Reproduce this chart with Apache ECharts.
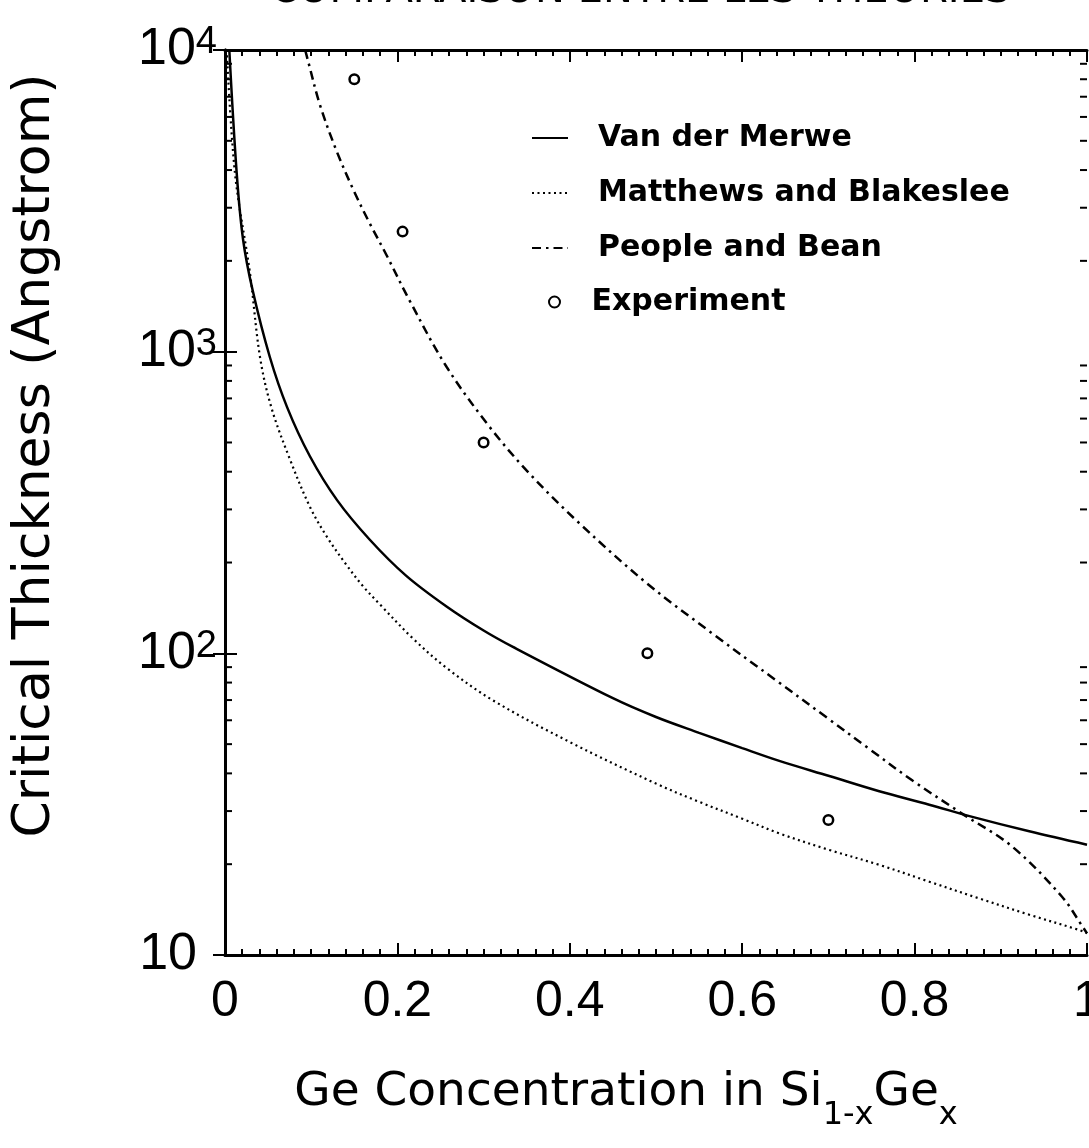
<!DOCTYPE html>
<html><head><meta charset="utf-8">
<script src="https://cdn.jsdelivr.net/npm/echarts@6/dist/echarts.min.js"></script>
<style>html,body{margin:0;padding:0;background:#fff}#c{width:1089px;height:1148px}</style>
</head><body><div id="c"></div>
<script>
// ---- data ----
const titleText = 'COMPARAISON ENTRE LES THEORIES';
const xTitleParts = ['Ge Concentration in Si', '1-x', 'Ge', 'x'];
const yTitle = 'Critical Thickness (Angstrom)';
const seriesNames = ['Van der Merwe', 'Matthews and Blakeslee', 'People and Bean', 'Experiment'];

const vanDerMerwe = [[0.005,10000],[0.0136,3900],[0.021,2350],[0.032,1600],[0.052,960],[0.072,655],[0.0985,450],[0.13,322],[0.168,238],[0.21,181],[0.257,143],[0.3,119],[0.334,105],[0.45,71],[0.5,61.5],[0.55,54.5],[0.6,48.5],[0.643,44],[0.701,39.2],[0.759,34.9],[0.817,31.5],[0.867,28.7],[0.933,25.7],[1.0,23.2]];
const matthewsBlakeslee = [[0.002,10000],[0.0116,3900],[0.029,1820],[0.0406,960],[0.054,650],[0.0753,440],[0.0985,306],[0.118,244],[0.14,198],[0.16,167],[0.18,145],[0.218,112],[0.257,89.5],[0.311,69.8],[0.4,50.8],[0.5,37],[0.55,32.2],[0.6,28.3],[0.643,25.3],[0.701,22.3],[0.759,19.9],[0.817,17.5],[0.875,15.4],[0.933,13.6],[0.991,12.1],[1.0,11.8]];
const peopleBean = [[0.093,10000],[0.0966,9140],[0.110,6600],[0.129,4660],[0.149,3435],[0.168,2660],[0.187,2100],[0.214,1480],[0.257,891],[0.307,563],[0.353,395],[0.411,270],[0.489,171],[0.566,116],[0.639,81.5],[0.7,60.7],[0.747,48.3],[0.798,37.8],[0.856,29.3],[0.913,22.9],[0.971,15.6],[0.995,12.4],[1.0,11.8]];
const experiment = [[0.15,8000],[0.206,2500],[0.30,500],[0.49,100],[0.70,28]];

const yMinorTicks = [20,30,40,50,60,70,80,90,200,300,400,500,600,700,800,900,2000,3000,4000,5000,6000,7000,8000,9000];

// ---- chart ----
const chart = echarts.init(document.getElementById('c'), null, {renderer:'canvas'});
const BLACK = '#000';
const tickFont = "'Liberation Sans', Arial, sans-serif";
const textFont = "'DejaVu Sans', sans-serif";

const xAxisBase = {
  type:'value', min:0, max:1, interval:0.2,
  axisLine:{show:true, lineStyle:{color:BLACK, width:3}},
  axisTick:{show:true, inside:true, length:12, lineStyle:{color:BLACK, width:2}},
  minorTick:{show:true, splitNumber:10, length:6, lineStyle:{color:BLACK, width:2}},
  splitLine:{show:false}, minorSplitLine:{show:false}
};
const yAxisBase = {
  type:'log', logBase:10, min:10, max:10000,
  axisLine:{show:true, lineStyle:{color:BLACK, width:3}},
  axisTick:{show:true, inside:true, length:12, lineStyle:{color:BLACK, width:2}},
  minorTick:{show:false}, splitLine:{show:false}
};
const legendText = {fontFamily:textFont, fontWeight:'bold', fontSize:30, lineHeight:30, color:BLACK};

const option = {
  backgroundColor:'#fff',
  animation:false,
  title:{text:titleText, left:270, top:-28, padding:0,
    textStyle:{fontFamily:textFont, fontSize:40, fontWeight:'normal', color:BLACK, lineHeight:40}},
  grid:{left:225, right:2, top:50, bottom:193, containLabel:false, outerBoundsMode:'none'},
  legend:[{
    data:seriesNames.slice(0,3), orient:'vertical', left:526, top:118, itemGap:25,
    itemWidth:36, itemHeight:14, itemStyle:{opacity:0},
    textStyle:Object.assign({padding:[0,0,0,25]}, legendText)
  },{
    data:[seriesNames[3]], orient:'vertical', left:543, top:282,
    itemWidth:36, itemHeight:11,
    textStyle:Object.assign({padding:[0,0,0,14]}, legendText)
  }],
  xAxis:[
    Object.assign({}, xAxisBase, {position:'bottom',
      axisLabel:{show:true, color:BLACK, fontFamily:tickFont, fontSize:50, margin:22, lineHeight:50},
      name:'{m|'+xTitleParts[0]+'}{s|'+xTitleParts[1]+'}{m|'+xTitleParts[2]+'}{s|'+xTitleParts[3]+'}',
      nameLocation:'middle', nameGap:99,
      nameTextStyle:{padding:[0,60,0,0], rich:{
        m:{fontFamily:textFont, fontSize:47, color:BLACK, lineHeight:78, verticalAlign:'middle'},
        s:{fontFamily:textFont, fontSize:32, color:BLACK, lineHeight:30, padding:[48,0,0,0], verticalAlign:'bottom'}
      }}
    }),
    Object.assign({}, xAxisBase, {position:'top', axisLabel:{show:false}})
  ],
  yAxis:[
    Object.assign({}, yAxisBase, {position:'left',
      axisLabel:{show:true, margin:8, formatter:function(v){
        const e = Math.round(Math.log10(v));
        return e === 1 ? '{p|10}' : '{b|10}{s|'+e+'}';
      }, rich:{
        b:{fontFamily:tickFont, fontSize:52, color:BLACK, lineHeight:52, verticalAlign:'bottom'},
        s:{fontFamily:tickFont, fontSize:38, color:BLACK, lineHeight:30, padding:[0,0,36,0], verticalAlign:'top'},
        p:{fontFamily:tickFont, fontSize:52, color:BLACK, lineHeight:52, padding:[0,20,0,0]}
      }},
      name:yTitle, nameLocation:'middle', nameGap:160,
      nameTextStyle:{fontFamily:textFont, fontSize:52, color:BLACK, lineHeight:60, padding:[0,0,0,94]}
    }),
    Object.assign({}, yAxisBase, {position:'right', axisLabel:{show:false}})
  ],
  series:[
    {name:seriesNames[0], type:'line', data:vanDerMerwe, symbol:'none', smooth:0.35,
      lineStyle:{color:BLACK, width:2.5, type:'solid'}, itemStyle:{color:BLACK}, z:3},
    {name:seriesNames[1], type:'line', data:matthewsBlakeslee, symbol:'none', smooth:0.35,
      lineStyle:{color:BLACK, width:2.2, type:[2,3.5]}, itemStyle:{color:BLACK}, z:3},
    {name:seriesNames[2], type:'line', data:peopleBean, symbol:'none', smooth:0.35,
      lineStyle:{color:BLACK, width:2.5, type:[9,5,2.5,5]}, itemStyle:{color:BLACK}, z:3},
    {name:seriesNames[3], type:'scatter', data:experiment, symbol:'circle', symbolSize:9.5,
      itemStyle:{color:'#fff', borderColor:BLACK, borderWidth:2.5, opacity:1}, z:4},
    {type:'custom', silent:true, z:5, clip:false, xAxisIndex:0, yAxisIndex:0,
      data:yMinorTicks.map(function(v){return [0, v];}),
      renderItem:function(params, api){
        const pl = api.coord([0, api.value(1)]);
        const pr = api.coord([1, api.value(1)]);
        return {type:'group', children:[
          {type:'line', shape:{x1:pl[0], y1:pl[1], x2:pl[0]+7, y2:pl[1]}, style:{stroke:BLACK, lineWidth:2}},
          {type:'line', shape:{x1:pr[0]-7, y1:pr[1], x2:pr[0], y2:pr[1]}, style:{stroke:BLACK, lineWidth:2}}
        ]};
      }}
  ]
};
chart.setOption(option);
</script>
</body></html>
